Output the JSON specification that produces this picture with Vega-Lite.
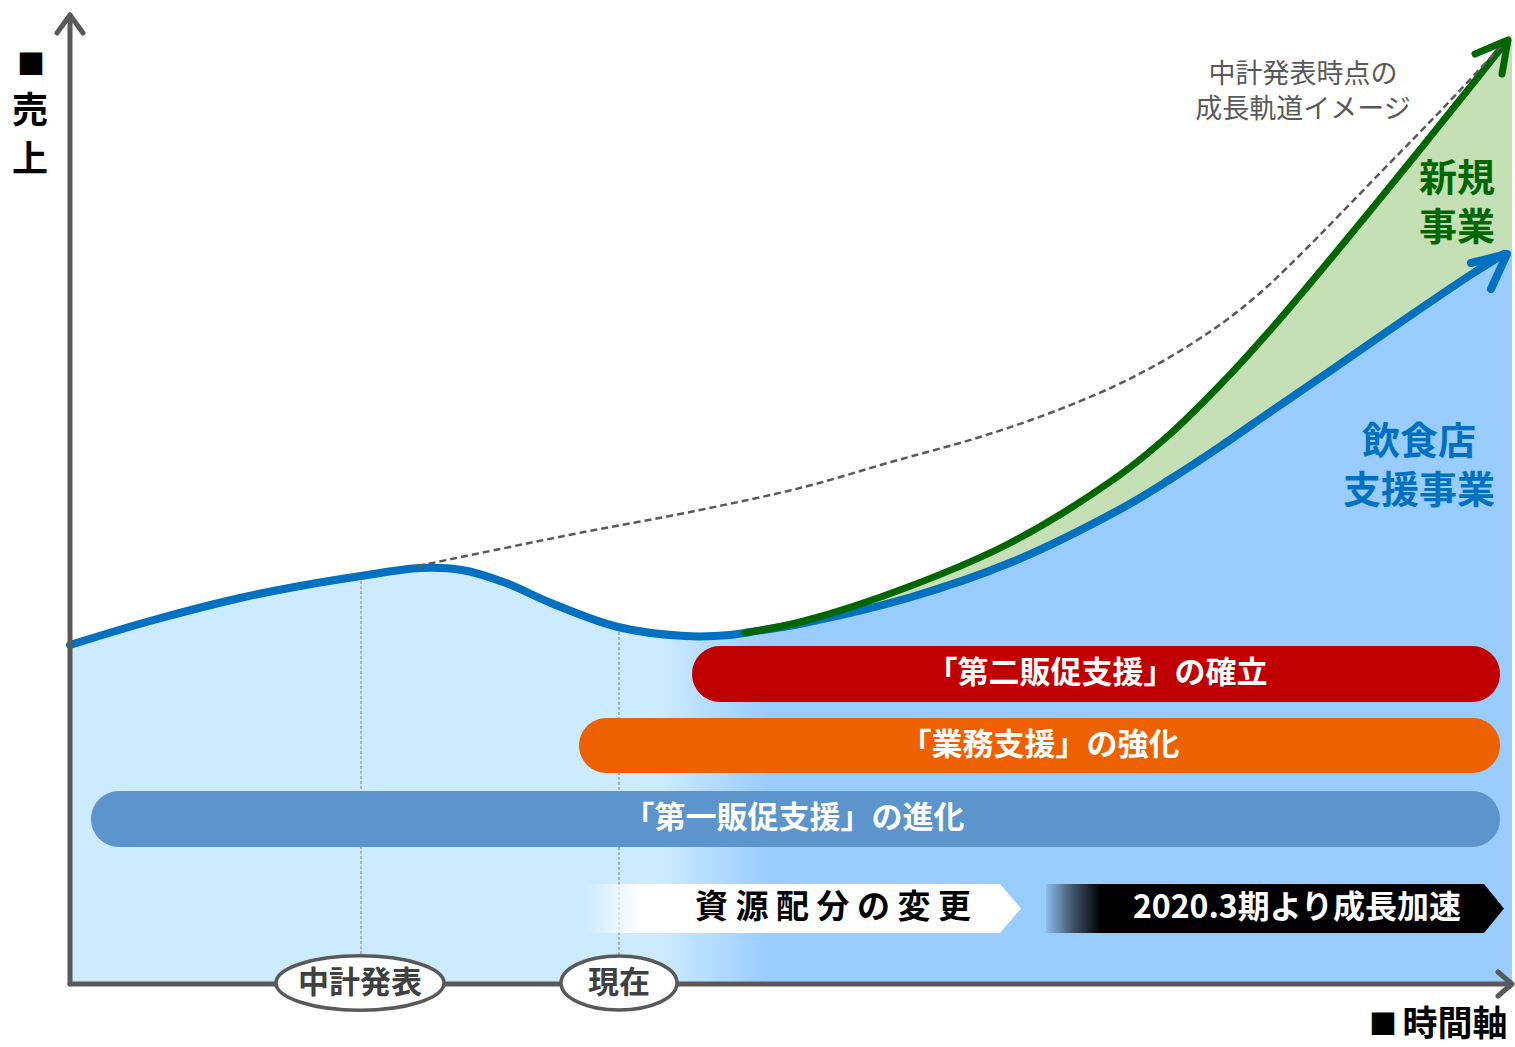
{
  "$schema": "https://vega.github.io/schema/vega-lite/v6.json",
  "width": 1515,
  "height": 1047,
  "autosize": "none",
  "padding": 0,
  "background": "#ffffff",
  "config": {"view": {"stroke": null}, "font": "Noto Sans CJK JP"},
  "datasets": {
    "blueArea": [
      {"x": 70, "y": 645}, {"x": 150, "y": 621}, {"x": 240, "y": 598}, {"x": 300, "y": 586}, {"x": 361, "y": 576},
      {"x": 420, "y": 568}, {"x": 462, "y": 570}, {"x": 506, "y": 583}, {"x": 551, "y": 603}, {"x": 618, "y": 627},
      {"x": 685, "y": 636}, {"x": 730, "y": 635}, {"x": 750, "y": 632}, {"x": 804, "y": 623}, {"x": 908, "y": 598},
      {"x": 1012, "y": 562}, {"x": 1117, "y": 511}, {"x": 1169, "y": 480}, {"x": 1221, "y": 446}, {"x": 1273, "y": 410},
      {"x": 1333, "y": 369}, {"x": 1414, "y": 313}, {"x": 1475, "y": 272}, {"x": 1505, "y": 253}, {"x": 1512, "y": 249}
    ],
    "blueLine": [
      {"x": 70, "y": 645}, {"x": 150, "y": 621}, {"x": 240, "y": 598}, {"x": 300, "y": 586}, {"x": 361, "y": 576},
      {"x": 420, "y": 568}, {"x": 462, "y": 570}, {"x": 506, "y": 583}, {"x": 551, "y": 603}, {"x": 618, "y": 627},
      {"x": 685, "y": 636}, {"x": 730, "y": 635}, {"x": 750, "y": 632}, {"x": 804, "y": 623}, {"x": 908, "y": 598},
      {"x": 1012, "y": 562}, {"x": 1117, "y": 511}, {"x": 1169, "y": 480}, {"x": 1221, "y": 446}, {"x": 1273, "y": 410},
      {"x": 1333, "y": 369}, {"x": 1414, "y": 313}, {"x": 1475, "y": 272}, {"x": 1504, "y": 254}
    ],
    "greenBand": [
      {"x": 750, "y": 632, "yb": 632}, {"x": 804, "y": 621, "yb": 623}, {"x": 908, "y": 587, "yb": 598},
      {"x": 1012, "y": 542, "yb": 562}, {"x": 1117, "y": 477, "yb": 511}, {"x": 1169, "y": 435, "yb": 480},
      {"x": 1221, "y": 384, "yb": 446}, {"x": 1273, "y": 327, "yb": 410}, {"x": 1333, "y": 256, "yb": 369},
      {"x": 1414, "y": 157, "yb": 313}, {"x": 1475, "y": 81, "yb": 272}, {"x": 1506, "y": 42, "yb": 253},
      {"x": 1512, "y": 34, "yb": 249}
    ],
    "greenLine": [
      {"x": 745, "y": 633}, {"x": 804, "y": 621}, {"x": 908, "y": 587}, {"x": 1012, "y": 542}, {"x": 1117, "y": 477},
      {"x": 1169, "y": 435}, {"x": 1221, "y": 384}, {"x": 1273, "y": 327}, {"x": 1333, "y": 256}, {"x": 1414, "y": 157},
      {"x": 1475, "y": 81}, {"x": 1506, "y": 42}
    ],
    "dashed": [
      {"x": 418, "y": 566}, {"x": 500, "y": 549}, {"x": 579, "y": 533}, {"x": 700, "y": 510}, {"x": 804, "y": 487},
      {"x": 891, "y": 462}, {"x": 980, "y": 437}, {"x": 1050, "y": 413}, {"x": 1117, "y": 385}, {"x": 1170, "y": 357},
      {"x": 1221, "y": 324}, {"x": 1260, "y": 293}, {"x": 1299, "y": 256}, {"x": 1381, "y": 172}, {"x": 1448, "y": 103},
      {"x": 1505, "y": 42}
    ],
    "guides": [
      {"x": 361, "y": 581, "y2": 956},
      {"x": 619, "y": 632, "y2": 956}
    ],
    "blueHead": [
      {"o": 0, "x": 1471, "y": 263}, {"o": 1, "x": 1507, "y": 254}, {"o": 2, "x": 1491, "y": 289}
    ],
    "greenHead": [
      {"o": 0, "x": 1475, "y": 54}, {"o": 1, "x": 1508, "y": 40}, {"o": 2, "x": 1502, "y": 74}
    ],
    "bars": [
      {"name": "second", "x": 692, "x2": 1500, "y": 646, "y2": 702},
      {"name": "ops", "x": 579, "x2": 1500, "y": 718, "y2": 773},
      {"name": "first", "x": 91, "x2": 1500, "y": 791, "y2": 847}
    ],
    "barLabels": [
      {"x": 1097, "y": 674, "label": "「第二販促支援」の確立"},
      {"x": 1040, "y": 746, "label": "「業務支援」の強化"},
      {"x": 794, "y": 819, "label": "「第一販促支援」の進化"}
    ],
    "whitePent": [
      {"x": 585, "y": 884, "y2": 933}, {"x": 1000, "y": 884, "y2": 933}, {"x": 1021, "y": 908.5, "y2": 908.5}
    ],
    "blackPent": [
      {"x": 1046, "y": 884, "y2": 933}, {"x": 1484, "y": 884, "y2": 933}, {"x": 1504, "y": 908.5, "y2": 908.5}
    ],
    "axes": [
      {"id": "y", "o": 0, "x": 70, "y": 984}, {"id": "y", "o": 1, "x": 70, "y": 15},
      {"id": "ya", "o": 0, "x": 57, "y": 33}, {"id": "ya", "o": 1, "x": 70, "y": 15}, {"id": "ya", "o": 2, "x": 83, "y": 33},
      {"id": "x", "o": 0, "x": 70, "y": 984}, {"id": "x", "o": 1, "x": 1511, "y": 984},
      {"id": "xa", "o": 0, "x": 1498, "y": 972}, {"id": "xa", "o": 1, "x": 1512, "y": 984}, {"id": "xa", "o": 2, "x": 1498, "y": 996}
    ]
  },
  "encoding": {
    "x": {"field": "x", "type": "quantitative", "scale": {"domain": [0, 1515], "nice": false, "zero": false}, "axis": null},
    "y": {"field": "y", "type": "quantitative", "scale": {"domain": [0, 1047], "nice": false, "zero": false, "reverse": true}, "axis": null}
  },
  "layer": [
    {
      "data": {"name": "blueArea"},
      "mark": {
        "type": "area", "interpolate": "catmull-rom",
        "color": {"gradient": "linear", "x1": 0, "y1": 0, "x2": 1, "y2": 0,
          "stops": [{"offset": 0, "color": "#CCEBFF"}, {"offset": 0.41, "color": "#CCEBFF"}, {"offset": 0.485, "color": "#99CCFF"}, {"offset": 1, "color": "#99CCFF"}]}
      },
      "encoding": {"y2": {"datum": 984}}
    },
    {
      "data": {"name": "greenBand"},
      "mark": {"type": "area", "interpolate": "catmull-rom", "color": "#C5E0B4"},
      "encoding": {"y2": {"field": "yb"}}
    },
    {
      "data": {"name": "guides"},
      "mark": {"type": "rule", "color": "#7F7F7F", "strokeWidth": 1, "strokeDash": [3, 2]},
      "encoding": {"y2": {"field": "y2"}}
    },
    {
      "data": {"name": "blueLine"},
      "mark": {"type": "line", "interpolate": "catmull-rom", "color": "#0070C0", "strokeWidth": 8, "strokeCap": "round"}
    },
    {
      "data": {"name": "greenLine"},
      "mark": {"type": "line", "interpolate": "catmull-rom", "color": "#006600", "strokeWidth": 7, "strokeCap": "round"}
    },
    {
      "data": {"name": "dashed"},
      "mark": {"type": "line", "interpolate": "catmull-rom", "color": "#595959", "strokeWidth": 2.5, "strokeDash": [7, 4]}
    },
    {
      "data": {"name": "blueHead"},
      "mark": {"type": "line", "color": "#0070C0", "strokeWidth": 8, "strokeCap": "round", "strokeJoin": "round"},
      "encoding": {"order": {"field": "o"}}
    },
    {
      "data": {"name": "greenHead"},
      "mark": {"type": "line", "color": "#006600", "strokeWidth": 7, "strokeCap": "round", "strokeJoin": "round"},
      "encoding": {"order": {"field": "o"}}
    },
    {
      "data": {"name": "bars"},
      "mark": {"type": "bar", "cornerRadius": 28},
      "encoding": {
        "x2": {"field": "x2"},
        "y2": {"field": "y2"},
        "color": {"field": "name", "type": "nominal", "legend": null,
          "scale": {"domain": ["second", "ops", "first"], "range": ["#C00000", "#EE6100", "#5B95CB"]}}
      }
    },
    {
      "data": {"name": "barLabels"},
      "mark": {"type": "text", "color": "#ffffff", "fontSize": 31, "fontWeight": "bold", "align": "center", "baseline": "middle"},
      "encoding": {"text": {"field": "label"}}
    },
    {
      "data": {"name": "whitePent"},
      "mark": {
        "type": "area",
        "color": {"gradient": "linear", "x1": 0, "y1": 0, "x2": 1, "y2": 0,
          "stops": [{"offset": 0, "color": "rgba(255,255,255,0)"}, {"offset": 0.13, "color": "#ffffff"}, {"offset": 1, "color": "#ffffff"}]}
      },
      "encoding": {"y2": {"field": "y2"}}
    },
    {
      "data": {"name": "blackPent"},
      "mark": {
        "type": "area",
        "color": {"gradient": "linear", "x1": 0, "y1": 0, "x2": 1, "y2": 0,
          "stops": [{"offset": 0, "color": "rgba(0,0,0,0.08)"}, {"offset": 0.06, "color": "rgba(0,0,0,0.6)"}, {"offset": 0.12, "color": "#000000"}, {"offset": 1, "color": "#000000"}]}
      },
      "encoding": {"y2": {"field": "y2"}}
    },
    {
      "data": {"values": [{"x": 833, "y": 908, "label": "資 源 配 分 の 変 更"}]},
      "mark": {"type": "text", "color": "#000000", "fontSize": 33, "fontWeight": "bold", "align": "center", "baseline": "middle"},
      "encoding": {"text": {"field": "label"}}
    },
    {
      "data": {"values": [{"x": 1297, "y": 908, "label": "2020.3期より成長加速"}]},
      "mark": {"type": "text", "color": "#ffffff", "fontSize": 32, "fontWeight": "bold", "align": "center", "baseline": "middle"},
      "encoding": {"text": {"field": "label"}}
    },
    {
      "data": {"name": "axes"},
      "mark": {"type": "line", "color": "#595959", "strokeWidth": 5, "strokeCap": "round", "strokeJoin": "round"},
      "encoding": {"detail": {"field": "id"}, "order": {"field": "o"}}
    },
    {
      "data": {"values": [{"x": 360, "y": 983}]},
      "mark": {"type": "point", "shape": "M-1,0A1,0.3235,0,1,0,1,0A1,0.3235,0,1,0,-1,0Z", "size": 28224, "filled": true, "fill": "#ffffff", "stroke": "#595959", "strokeWidth": 3.5, "opacity": 1, "fillOpacity": 1}
    },
    {
      "data": {"values": [{"x": 619, "y": 983}]},
      "mark": {"type": "point", "shape": "M-1,0A1,0.466,0,1,0,1,0A1,0.466,0,1,0,-1,0Z", "size": 13456, "filled": true, "fill": "#ffffff", "stroke": "#595959", "strokeWidth": 3.5, "opacity": 1, "fillOpacity": 1}
    },
    {
      "data": {"values": [{"x": 360, "y": 984, "label": "中計発表"}, {"x": 619, "y": 984, "label": "現在"}]},
      "mark": {"type": "text", "color": "#404040", "fontSize": 31, "fontWeight": "bold", "align": "center", "baseline": "middle"},
      "encoding": {"text": {"field": "label"}}
    },
    {
      "data": {"values": [{"x": 1457, "y": 180, "label": "新規"}, {"x": 1457, "y": 229, "label": "事業"}]},
      "mark": {"type": "text", "color": "#006600", "fontSize": 38, "fontWeight": "bold", "align": "center", "baseline": "middle"},
      "encoding": {"text": {"field": "label"}}
    },
    {
      "data": {"values": [{"x": 1419, "y": 443, "label": "飲食店"}, {"x": 1419, "y": 492, "label": "支援事業"}]},
      "mark": {"type": "text", "color": "#0070C0", "fontSize": 38, "fontWeight": "bold", "align": "center", "baseline": "middle"},
      "encoding": {"text": {"field": "label"}}
    },
    {
      "data": {"values": [{"x": 1303, "y": 75, "label": "中計発表時点の"}, {"x": 1303, "y": 110, "label": "成長軌道イメージ"}]},
      "mark": {"type": "text", "color": "#595959", "fontSize": 27, "fontWeight": "normal", "align": "center", "baseline": "middle"},
      "encoding": {"text": {"field": "label"}}
    },
    {
      "data": {"values": [{"x": 31, "y": 67, "label": "■"}, {"x": 1383, "y": 1027, "label": "■"}]},
      "mark": {"type": "text", "color": "#000000", "fontSize": 28, "fontWeight": "bold", "align": "center", "baseline": "middle"},
      "encoding": {"text": {"field": "label"}}
    },
    {
      "data": {"values": [{"x": 30, "y": 112, "label": "売"}, {"x": 30, "y": 161, "label": "上"}]},
      "mark": {"type": "text", "color": "#000000", "fontSize": 36, "fontWeight": "bold", "align": "center", "baseline": "middle"},
      "encoding": {"text": {"field": "label"}}
    },
    {
      "data": {"values": [{"x": 1455, "y": 1025, "label": "時間軸"}]},
      "mark": {"type": "text", "color": "#000000", "fontSize": 35, "fontWeight": "bold", "align": "center", "baseline": "middle"},
      "encoding": {"text": {"field": "label"}}
    }
  ]
}
